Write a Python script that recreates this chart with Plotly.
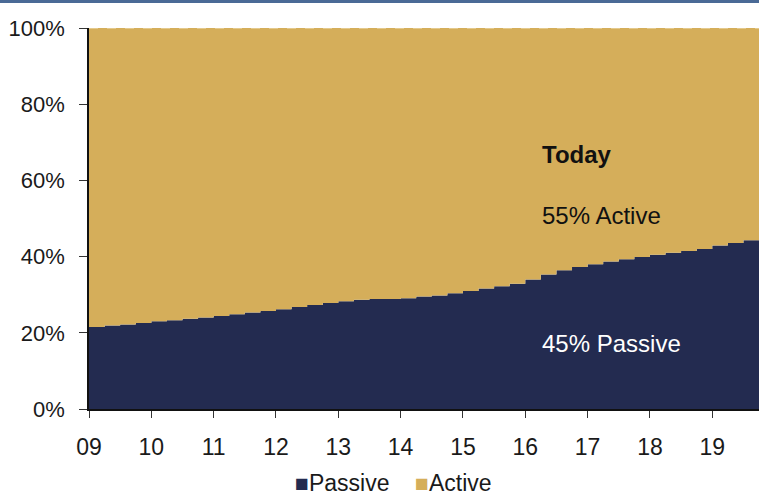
import plotly.graph_objects as go

# Quarterly share of assets held in passive funds (%), 2009 Q1 .. 2019 Q4
quarters = [2009 + q / 4 for q in range(44)]
passive_share = [
    21.5, 21.9, 22.2, 22.6,   # 2009
    23.0, 23.3, 23.7, 24.0,   # 2010
    24.4, 24.9, 25.3, 25.7,   # 2011
    26.2, 26.8, 27.3, 27.8,   # 2012
    28.3, 28.7, 28.9, 28.9,   # 2013
    29.1, 29.5, 29.8, 30.4,   # 2014
    31.0, 31.6, 32.2, 32.9,   # 2015
    34.0, 35.3, 36.4, 37.3,   # 2016
    38.0, 38.7, 39.3, 39.9,   # 2017
    40.5, 41.0, 41.5, 42.0,   # 2018
    42.9, 43.6, 44.3, 45.0,   # 2019
]
active_share = [round(100 - p, 1) for p in passive_share]

year_ticks = list(range(2009, 2020))
year_labels = [f"{y % 100:02d}" for y in year_ticks]
pct_ticks = [0, 20, 40, 60, 80, 100]
pct_labels = [f"{v}%" for v in pct_ticks]

NAVY = "#232B50"
GOLD = "#D5AE5A"
FONT = "Liberation Sans, Arial, sans-serif"

fig = go.Figure()
fig.add_trace(go.Scatter(
    x=quarters, y=passive_share, name="Passive", stackgroup="s",
    mode="lines", line=dict(width=0, shape="hv", color=NAVY),
    fillcolor=NAVY, showlegend=False,
))
fig.add_trace(go.Scatter(
    x=quarters, y=active_share, name="Active", stackgroup="s",
    mode="lines", line=dict(width=0, shape="hv", color=GOLD),
    fillcolor=GOLD, showlegend=False,
))

end_x = quarters[-1]
lab_x = 2016.23
fig.add_annotation(x=lab_x, y=66.7, text="<b>Today</b>", showarrow=False,
                   xanchor="left", font=dict(size=24, color="#111111", family=FONT))
fig.add_annotation(x=lab_x, y=50.9, text=f"{active_share[-1]:.0f}% Active",
                   showarrow=False, xanchor="left",
                   font=dict(size=24, color="#111111", family=FONT))
fig.add_annotation(x=lab_x, y=17.3, text=f"{passive_share[-1]:.0f}% Passive",
                   showarrow=False, xanchor="left",
                   font=dict(size=24, color="#FFFFFF", family=FONT))

# key below the chart: coloured squares followed by series names
fig.add_annotation(
    xref="paper", yref="paper", x=(293 - 89) / 670, y=-74 / 381,
    xanchor="left", yanchor="middle", showarrow=False,
    text=(f"<span style='color:{NAVY}'>■</span>Passive"
          f"    <span style='color:{GOLD}'>■</span>Active"),
    font=dict(size=23, color="#1a1a1a", family=FONT),
)

# dashed rim along the 100% edge and header rule above the chart
fig.add_shape(type="line", xref="x", yref="y", x0=2009, x1=end_x, y0=100, y1=100,
              line=dict(color="#F3E3BE", width=1, dash="dash"))
fig.add_shape(type="rect", xref="paper", yref="paper", x0=-0.2, x1=1.1,
              y0=1 + 25 / 381, y1=1 + 29 / 381, line=dict(width=0),
              fillcolor="#4A6A96")

fig.update_layout(
    width=759, height=495,
    margin=dict(l=89, r=0, t=28, b=86),
    paper_bgcolor="white", plot_bgcolor="white",
    font=dict(family=FONT, size=21, color="#222222"),
    showlegend=False,
    xaxis=dict(range=[2009, end_x], tickvals=year_ticks, ticktext=year_labels,
               showgrid=False, zeroline=False, showline=True, linecolor="#111111",
               linewidth=2, ticks="outside", ticklen=7, tickcolor="#333333",
               automargin=False, ticklabelstandoff=9,
               tickfont=dict(size=23, color="#1a1a1a", family=FONT)),
    yaxis=dict(range=[0, 100], tickvals=pct_ticks, ticktext=pct_labels,
               showgrid=False, zeroline=False, showline=True, linecolor="#111111",
               linewidth=1.5, ticks="outside", ticklen=8, tickcolor="#333333",
               automargin=False, ticklabelstandoff=10,
               tickfont=dict(size=22, color="#1a1a1a", family=FONT)),
)

fig.write_html("out.html")
